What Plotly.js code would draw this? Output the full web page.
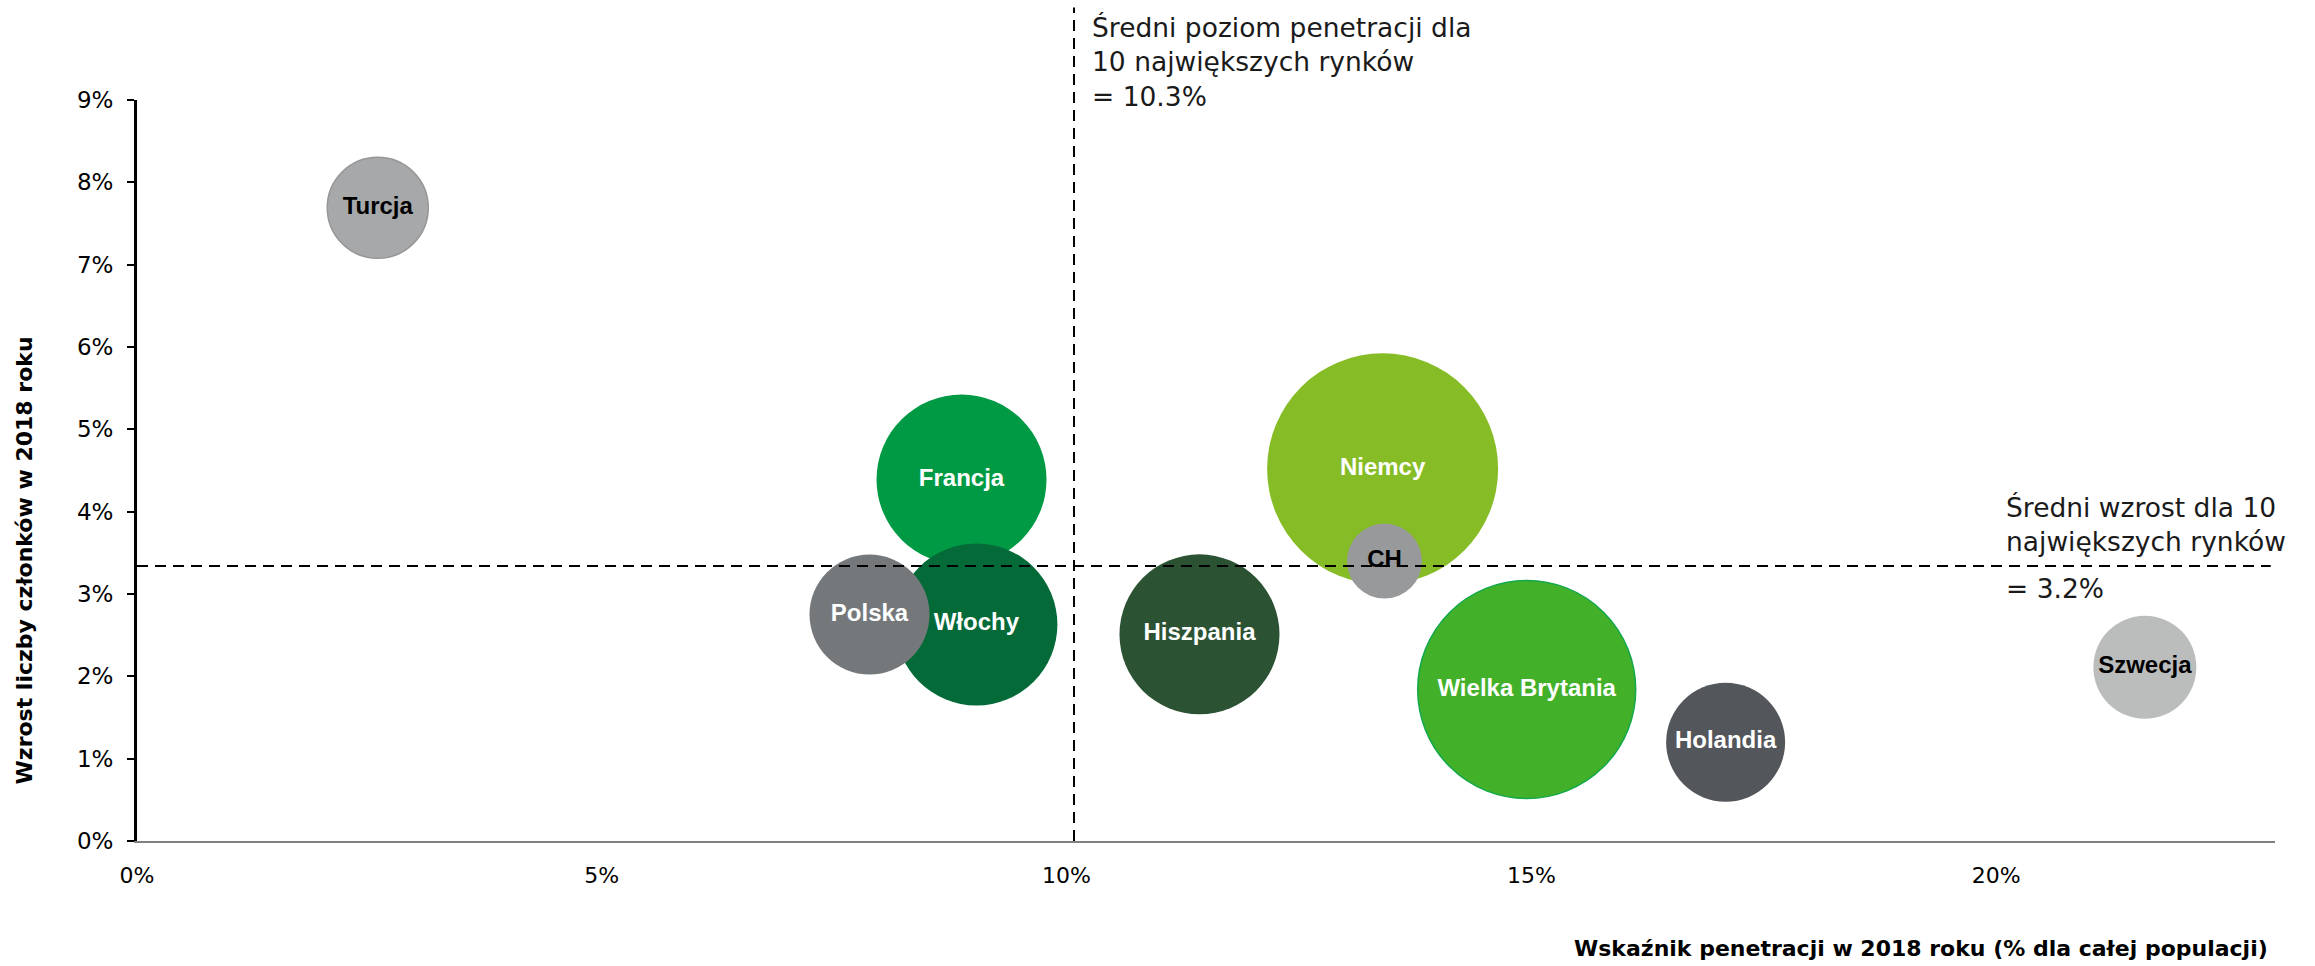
<!DOCTYPE html>
<html>
<head>
<meta charset="utf-8">
<script src="https://cdn.plot.ly/plotly-3.0.1.min.js"></script>
<style>
html,body{margin:0;padding:0;background:#fff;}
#chart{width:2315px;height:966px;}
</style>
</head>
<body>
<div id="chart"></div>
<script>
// ---- data ----
const countries   = ["Turcja","Francja","Włochy","Polska","Hiszpania","Niemcy","CH","Wielka Brytania","Holandia","Szwecja"];
const penetration = [2.59, 8.87, 9.03, 7.88, 11.43, 13.40, 13.42, 14.95, 17.09, 21.60];   // % of population
const growth      = [7.69, 4.39, 2.63, 2.75, 2.51, 4.52, 3.40, 1.84, 1.20, 2.11];        // % members growth
const bubbleSize  = [101, 170, 162, 120, 160, 231, 75, 218, 119, 103];
const bubbleColor = ["#a7a8aa","#009a44","#046a38","#75787b","#2c5234","#86bc25","#97999b","#43b02a","#53565a","#bbbcbc"];
const lineColor   = ["#969696","#009a44","#046a38","#75787b","#2c5234","#86bc25","#97999b","#13a84a","#53565a","#bbbcbc"];
const labelColor  = ["#000000","#ffffff","#ffffff","#ffffff","#ffffff","#ffffff","#000000","#ffffff","#ffffff","#000000"];
const avgPenetration = [10.08];
const avgGrowth      = [3.34];
const xTickVals = [0, 5, 10, 15, 20];
const xTickText = ["0%","5%","10%","15%","20%"];
const yTickVals = [0,1,2,3,4,5,6,7,8,9];
const yTickText = ["0%","1%","2%","3%","4%","5%","6%","7%","8%","9%"];
const xTitle = "Wskaźnik penetracji w 2018 roku (% dla całej populacji)";
const yTitle = "Wzrost liczby członków w 2018 roku";
const noteX = "Średni poziom penetracji dla<br>10 największych rynków<br>= 10.3%";
const noteY1 = "Średni wzrost dla 10<br>największych rynków";
const noteY2 = "= 3.2%";

const trace = {
  type: "scatter",
  mode: "markers+text",
  x: penetration,
  y: growth,
  text: countries,
  textposition: "middle center",
  textfont: {family: "Liberation Sans, Arial, sans-serif", size: 24, weight: "bold", color: labelColor},
  marker: {
    size: bubbleSize,
    sizemode: "diameter",
    sizeref: 1,
    color: bubbleColor,
    opacity: 1,
    line: {color: lineColor, width: [1.5,0,0,0,0,0,0,1.5,0,0]}
  },
  hoverinfo: "text",
  showlegend: false,
  cliponaxis: false
};

const layout = {
  width: 2315,
  height: 966,
  margin: {l: 137, r: 40, t: 100, b: 125},
  paper_bgcolor: "#ffffff",
  plot_bgcolor: "#ffffff",
  showlegend: false,
  font: {family: "DejaVu Sans, Verdana, sans-serif", color: "#000"},
  xaxis: {
    range: [0, 23],
    tickvals: xTickVals,
    ticktext: xTickText,
    showgrid: false,
    zeroline: false,
    showline: true,
    linecolor: "#808080",
    linewidth: 2,
    ticks: "",
    ticklabelstandoff: 14,
    tickfont: {family: "DejaVu Sans, Verdana, sans-serif", size: 22, color: "#000"},
    fixedrange: true
  },
  yaxis: {
    range: [0, 9],
    tickvals: yTickVals,
    ticktext: yTickText,
    showgrid: false,
    zeroline: false,
    showline: true,
    linecolor: "#000",
    linewidth: 3,
    ticks: "outside",
    ticklen: 7,
    tickwidth: 2,
    tickcolor: "#000",
    ticklabelstandoff: 9,
    tickfont: {family: "DejaVu Sans, Verdana, sans-serif", size: 23, color: "#000"},
    fixedrange: true
  },
  yaxis2: {
    range: [0, 9],
    overlaying: "y",
    anchor: "x",
    side: "left",
    tickvals: yTickVals,
    showticklabels: false,
    showgrid: false,
    zeroline: false,
    showline: false,
    ticks: "inside",
    ticklen: 8,
    tickwidth: 2,
    tickcolor: "#000",
    fixedrange: true
  },
  shapes: [
    {type: "line", xref: "x", yref: "paper", x0: avgPenetration[0], x1: avgPenetration[0], y0: 0, y1: 1.125,
     line: {color: "#000", width: 2, dash: "11px,7px"}, layer: "above"},
    {type: "line", xref: "paper", yref: "y", x0: 0, x1: 0.998, y0: avgGrowth[0], y1: avgGrowth[0],
     line: {color: "#000", width: 2, dash: "11px,7px"}, layer: "above"}
  ],
  annotations: [
    {text: noteX, xref: "x", yref: "paper", x: 10.25, y: 1.122, xanchor: "left", yanchor: "top",
     align: "left", showarrow: false, font: {family: "DejaVu Sans, Verdana, sans-serif", size: 26.5, color: "#1a1a1a"}},
    {text: noteY1, xref: "x", yref: "y", x: 20.08, y: 3.84, xanchor: "left", yanchor: "middle",
     align: "left", showarrow: false, font: {family: "DejaVu Sans, Verdana, sans-serif", size: 26.5, color: "#1a1a1a"}},
    {text: noteY2, xref: "x", yref: "y", x: 20.08, y: 3.065, xanchor: "left", yanchor: "middle",
     align: "left", showarrow: false, font: {family: "DejaVu Sans, Verdana, sans-serif", size: 26.5, color: "#1a1a1a"}},
    {text: "<b>" + yTitle + "</b>", xref: "paper", yref: "paper", x: -0.0526, y: 0.378, textangle: -90,
     xanchor: "center", yanchor: "middle", showarrow: false,
     font: {family: "DejaVu Sans, Verdana, sans-serif", size: 22, color: "#000"}},
    {text: "<b>" + xTitle + "</b>", xref: "paper", yref: "paper", x: 0.9975, y: -0.145,
     xanchor: "right", yanchor: "middle", showarrow: false,
     font: {family: "DejaVu Sans, Verdana, sans-serif", size: 22, color: "#000"}}
  ]
};

Plotly.newPlot("chart", [trace], layout, {displayModeBar: false, staticPlot: true});
</script>
</body>
</html>
